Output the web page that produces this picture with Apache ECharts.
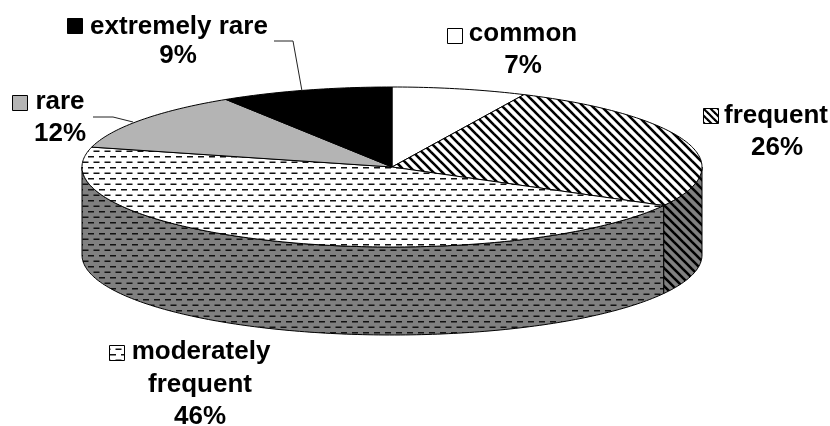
<!DOCTYPE html>
<html>
<head>
<meta charset="utf-8">
<style>html,body{margin:0;padding:0;background:#fff}#chart{width:830px;height:426px}</style>
<script src="https://cdn.jsdelivr.net/npm/echarts@6/dist/echarts.min.js"></script>
</head>
<body>
<div id="chart"></div>
<script>
// Data
const categories = ['common', 'frequent', 'moderately frequent', 'rare', 'extremely rare'];
const percentages = [7, 26, 46, 12, 9];
const labelLines = [['common', '7%'], ['frequent', '26%'], ['moderately', 'frequent', '46%'], ['rare', '12%'], ['extremely rare', '9%']];

// Layout (separate from the data)
const CX = 392, CY = 167, RX = 310, RY = 80, DEPTH = 88;
const FONT = 'bold 26px "Liberation Sans", Arial, sans-serif';
const textPos = [
  [[523, 34], [523, 66]],
  [[776, 116], [777, 148]],
  [[201, 352], [200, 385], [200, 417]],
  [[60, 102], [60, 134]],
  [[179, 27], [178, 56]]
];
const keyPos = [[447, 28], [703, 108], [109, 345], [12, 95], [67, 18]];
const leaders = [null, null, null, [[93, 117], [113, 117], [133, 122]], [[274, 41], [293, 41], [302, 91]]];

function tile(w, h, bg, draw) {
  const c = document.createElement('canvas');
  c.width = w; c.height = h;
  const g = c.getContext('2d');
  g.fillStyle = bg; g.fillRect(0, 0, w, h);
  draw(g);
  return { image: c, repeat: 'repeat' };
}
function stripes(bg, p, lw) {
  return tile(p, p, bg, function (g) {
    g.strokeStyle = '#000'; g.lineWidth = lw;
    for (let k = -1; k <= 1; k++) {
      g.beginPath(); g.moveTo(k * p - 1, -1); g.lineTo(k * p + p + 1, p + 1); g.stroke();
    }
  });
}
function dashes(bg) {
  return tile(11, 11, bg, function (g) {
    g.fillStyle = '#111';
    g.fillRect(0, 2, 6, 1.5);
    g.fillRect(5.5, 7.5, 6, 1.5);
    g.fillRect(-5.5, 7.5, 6, 1.5);
  });
}
const topFills = [
  '#ffffff',
  stripes('#ffffff', 9, 2.6),
  dashes('#ffffff'),
  '#b4b4b4',
  '#000000'
];
const sideFills = [
  '#808080',
  stripes('#808080', 9, 2.6),
  dashes('#808080'),
  '#808080',
  '#000000'
];
const keyFills = [
  '#ffffff',
  stripes('#ffffff', 7, 2.2),
  dashes('#ffffff'),
  '#b4b4b4',
  '#000000'
];

function pt(deg, dy) {
  const a = deg * Math.PI / 180;
  return [CX + RX * Math.sin(a), CY - RY * Math.cos(a) + (dy || 0)];
}
function arc(a0, a1, dy) {
  const pts = [];
  const n = Math.max(2, Math.ceil(Math.abs(a1 - a0)));
  for (let i = 0; i <= n; i++) pts.push(pt(a0 + (a1 - a0) * i / n, dy));
  return pts;
}

const total = percentages.reduce(function (s, v) { return s + v; }, 0);

function renderItem(params, api) {
  const i = params.dataIndex;
  let before = 0;
  for (let k = 0; k < i; k++) before += percentages[k];
  const a0 = before / total * 360;
  const a1 = a0 + api.value(1) / total * 360;
  const children = [];
  // visible wall: the part of the rim between 90 and 270 degrees
  const s0 = Math.max(a0, 90), s1 = Math.min(a1, 270);
  if (s1 > s0) {
    children.push({
      type: 'polygon', z2: 1,
      shape: { points: arc(s0, s1, 0).concat(arc(s1, s0, DEPTH)) },
      style: { fill: sideFills[i], stroke: '#000', lineWidth: 1 }
    });
  }
  children.push({
    type: 'polygon', z2: 2,
    shape: { points: [[CX, CY]].concat(arc(a0, a1, 0)) },
    style: { fill: topFills[i], stroke: '#000', lineWidth: 1 }
  });
  if (leaders[i]) {
    children.push({
      type: 'polyline', z2: 3,
      shape: { points: leaders[i] },
      style: { fill: 'none', stroke: '#222', lineWidth: 1 }
    });
  }
  children.push({
    type: 'rect', z2: 4,
    shape: { x: keyPos[i][0] + 0.5, y: keyPos[i][1] + 0.5, width: 15, height: 15 },
    style: { fill: keyFills[i], stroke: '#000', lineWidth: 1 }
  });
  labelLines[i].forEach(function (line, j) {
    children.push({
      type: 'text', z2: 5,
      style: {
        text: line, x: textPos[i][j][0], y: textPos[i][j][1],
        font: FONT, fill: '#000', align: 'center', verticalAlign: 'middle'
      }
    });
  });
  return { type: 'group', children: children };
}

const chart = echarts.init(document.getElementById('chart'), null, { renderer: 'canvas' });
chart.setOption({
  animation: false,
  backgroundColor: '#ffffff',
  series: [{
    type: 'custom',
    coordinateSystem: 'none',
    silent: true,
    data: categories.map(function (c, i) { return [c, percentages[i]]; }),
    dimensions: ['category', 'percent'],
    renderItem: renderItem
  }]
});
</script>
</body>
</html>
